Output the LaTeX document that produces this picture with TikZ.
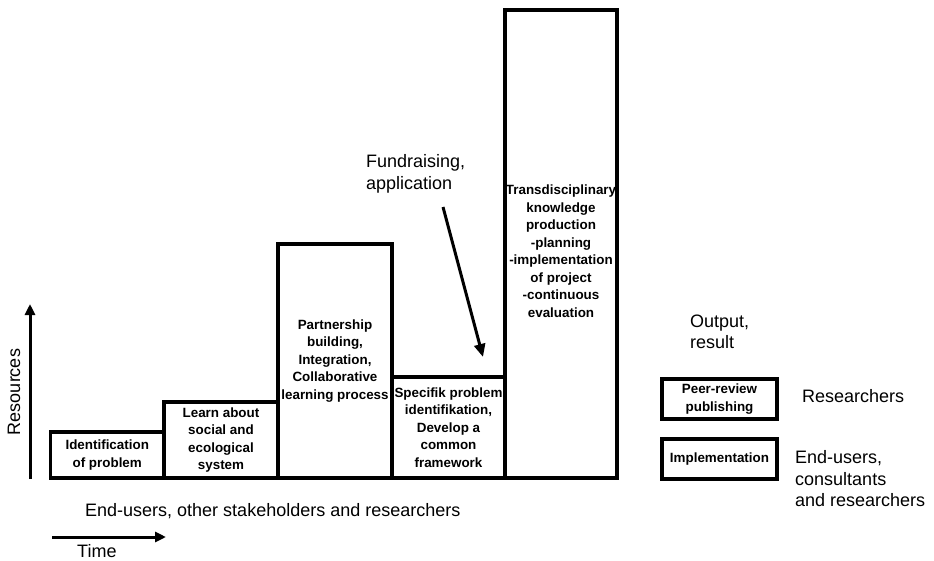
\documentclass[tikz,border=0pt]{standalone}
\usepackage{fontspec}
\setmainfont{Liberation Sans}
\usetikzlibrary{arrows.meta}
\begin{document}
\begin{tikzpicture}[x=1pt,y=-1pt,
  box/.style={draw=black, line width=3.3pt, inner sep=0pt, outer sep=0pt, anchor=south west,
     font=\fontsize{13.4}{17.5}\selectfont\bfseries, align=center},
  txt/.style={inner sep=0pt, font=\fontsize{18}{21.5}\selectfont},
  btxt/.style={inner sep=0pt, font=\fontsize{13.4}{17.5}\selectfont\bfseries, align=center},
  arr/.style={line width=3pt, -{Triangle[length=11pt,width=10pt]}}
]
\useasboundingbox (0,0) rectangle (934,561);
% steps
\node[box, minimum width=113.5pt, minimum height=46pt] (b1) at (50.5,478) {Identification\\of problem};
\node[box, minimum width=114pt, minimum height=76pt] (b2) at (164,478) {Learn about\\social and\\ecological\\system};
\node[box, minimum width=114pt, minimum height=234pt] (b3) at (278,478) {Partnership\\building,\\Integration,\\Collaborative\\learning process};
\node[box, minimum width=113pt, minimum height=101pt] (b4) at (392,478) {Specifik problem\\identifikation,\\Develop a\\common\\framework};
\node[box, minimum width=112pt, minimum height=468pt] (b5) at (505,478) {};
\node[btxt] (t5) at (561,251) {Transdisciplinary\\knowledge\\production\\-planning\\-implementation\\of project\\-continuous\\evaluation};
% resources axis
\coordinate (r0) at (30,479);
\coordinate (r1) at (30,304);
\draw[arr] (r0) -- (r1);
\node[txt, rotate=90] (res) at (14,392) {Resources};
% bottom texts
\node[txt, anchor=west] (eu) at (85,511) {End-users, other stakeholders and researchers};
\coordinate (t0) at (52,537);
\coordinate (t1) at (166,537);
\draw[arr] (t0) -- (t1);
\node[txt, anchor=base west] (time) at (77,557) {Time};
% fundraising
\node[txt, anchor=west, align=left] (fund) at (366,174) {Fundraising,\\application};
\coordinate (f0) at (443,207);
\coordinate (f1) at (483,357);
\draw[line width=3pt, -{Triangle[length=13pt,width=11pt]}] (f0) -- (f1);
% output
\node[txt, anchor=west, align=left] (out) at (690,332) {Output,\\result};
\node[box, minimum width=115pt, minimum height=40pt] (pr) at (662,419) {Peer-review\\publishing};
\node[box, minimum width=115pt, minimum height=40pt] (im) at (662,479) {Implementation};
\node[txt, anchor=west] (rs) at (802,396) {Researchers};
\node[txt, anchor=west, align=left] (ec) at (795,479) {End-users,\\consultants\\and researchers};
\end{tikzpicture}
\end{document}
